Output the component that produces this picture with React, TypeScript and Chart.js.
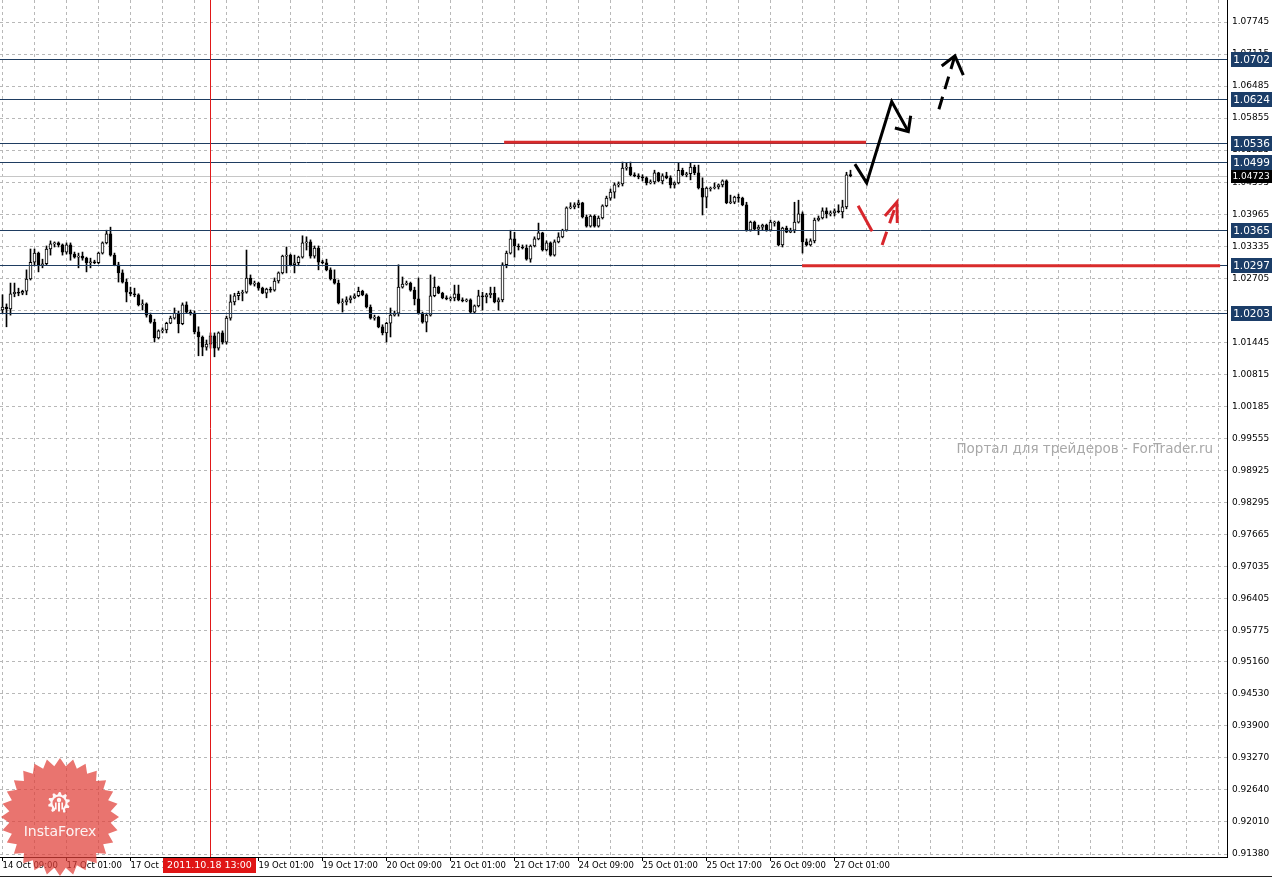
import React, { useEffect, useRef } from 'react';
import { Chart, registerables } from 'chart.js';

Chart.register(...registerables);

// ---------- candle data (H1, one value per bar) ----------
const opens = [1.0208,1.0214,1.0210,1.0240,1.0243,1.0241,1.0245,1.0269,1.0302,1.0320,
 1.0295,1.0299,1.0328,1.0338,1.0340,1.0336,1.0322,1.0336,1.0318,1.0312,
 1.0314,1.0310,1.0301,1.0302,1.0301,1.0320,1.0340,1.0358,1.0316,1.0297,
 1.0281,1.0263,1.0243,1.0240,1.0238,1.0218,1.0220,1.0198,1.0184,1.0153,
 1.0167,1.0169,1.0182,1.0192,1.0202,1.0181,1.0218,1.0204,1.0202,1.0165,
 1.0155,1.0135,1.0141,1.0157,1.0133,1.0163,1.0145,1.0192,1.0224,1.0236,
 1.0241,1.0243,1.0271,1.0259,1.0261,1.0251,1.0241,1.0249,1.0247,1.0265,
 1.0281,1.0314,1.0316,1.0297,1.0301,1.0312,1.0340,1.0342,1.0314,1.0330,
 1.0302,1.0301,1.0287,1.0269,1.0261,1.0222,1.0224,1.0228,1.0232,1.0236,
 1.0245,1.0238,1.0214,1.0192,1.0194,1.0175,1.0163,1.0182,1.0198,1.0202,
 1.0253,1.0259,1.0261,1.0247,1.0230,1.0202,1.0184,1.0198,1.0236,1.0253,
 1.0241,1.0232,1.0230,1.0232,1.0240,1.0228,1.0226,1.0228,1.0204,1.0216,
 1.0236,1.0234,1.0238,1.0241,1.0224,1.0228,1.0297,1.0320,1.0348,1.0334,
 1.0332,1.0330,1.0308,1.0334,1.0348,1.0360,1.0326,1.0340,1.0316,1.0342,
 1.0352,1.0365,1.0409,1.0411,1.0415,1.0419,1.0391,1.0373,1.0393,1.0373,
 1.0389,1.0413,1.0428,1.0440,1.0454,1.0456,1.0487,1.0489,1.0474,1.0472,
 1.0470,1.0468,1.0458,1.0460,1.0478,1.0462,1.0472,1.0468,1.0454,1.0458,
 1.0483,1.0474,1.0476,1.0489,1.0478,1.0448,1.0430,1.0446,1.0448,1.0450,
 1.0454,1.0462,1.0419,1.0420,1.0430,1.0428,1.0415,1.0365,1.0381,1.0367,
 1.0371,1.0375,1.0365,1.0379,1.0381,1.0336,1.0369,1.0361,1.0365,1.0381,
 1.0397,1.0342,1.0336,1.0344,1.0385,1.0389,1.0403,1.0397,1.0399,1.0403,
 1.0401,1.0411,1.0474];

const highs = [1.0238,1.0220,1.0261,1.0261,1.0251,1.0247,1.0287,1.0328,1.0328,1.0322,
 1.0308,1.0334,1.0344,1.0342,1.0342,1.0338,1.0340,1.0340,1.0322,1.0320,
 1.0322,1.0312,1.0310,1.0306,1.0322,1.0342,1.0365,1.0371,1.0320,1.0302,
 1.0287,1.0269,1.0253,1.0251,1.0240,1.0228,1.0222,1.0202,1.0190,1.0169,
 1.0173,1.0184,1.0196,1.0212,1.0206,1.0222,1.0224,1.0208,1.0206,1.0175,
 1.0157,1.0149,1.0163,1.0163,1.0165,1.0167,1.0196,1.0238,1.0241,1.0245,
 1.0247,1.0326,1.0277,1.0265,1.0263,1.0253,1.0251,1.0253,1.0271,1.0283,
 1.0316,1.0332,1.0318,1.0316,1.0314,1.0354,1.0352,1.0346,1.0334,1.0334,
 1.0306,1.0308,1.0291,1.0287,1.0267,1.0230,1.0234,1.0236,1.0240,1.0253,
 1.0247,1.0240,1.0218,1.0198,1.0196,1.0179,1.0184,1.0212,1.0206,1.0297,
 1.0273,1.0265,1.0263,1.0253,1.0271,1.0204,1.0202,1.0277,1.0273,1.0255,
 1.0243,1.0236,1.0234,1.0257,1.0257,1.0232,1.0230,1.0230,1.0218,1.0247,
 1.0243,1.0241,1.0253,1.0253,1.0232,1.0301,1.0324,1.0365,1.0361,1.0338,
 1.0336,1.0336,1.0336,1.0352,1.0379,1.0361,1.0344,1.0342,1.0346,1.0360,
 1.0367,1.0411,1.0419,1.0419,1.0424,1.0420,1.0395,1.0395,1.0395,1.0393,
 1.0415,1.0432,1.0446,1.0458,1.0460,1.0499,1.0497,1.0499,1.0478,1.0476,
 1.0474,1.0470,1.0464,1.0483,1.0479,1.0476,1.0479,1.0472,1.0460,1.0497,
 1.0487,1.0479,1.0497,1.0493,1.0493,1.0468,1.0450,1.0450,1.0458,1.0456,
 1.0464,1.0464,1.0434,1.0432,1.0436,1.0430,1.0420,1.0383,1.0383,1.0375,
 1.0377,1.0377,1.0385,1.0383,1.0383,1.0371,1.0373,1.0369,1.0420,1.0424,
 1.0401,1.0348,1.0348,1.0389,1.0393,1.0409,1.0409,1.0403,1.0407,1.0415,
 1.0424,1.0479,1.0483];

const lows = [1.0202,1.0175,1.0198,1.0234,1.0236,1.0238,1.0238,1.0267,1.0295,1.0283,
 1.0291,1.0297,1.0316,1.0332,1.0332,1.0316,1.0318,1.0306,1.0310,1.0291,
 1.0306,1.0283,1.0291,1.0299,1.0299,1.0318,1.0338,1.0314,1.0295,1.0263,
 1.0261,1.0224,1.0236,1.0234,1.0216,1.0208,1.0194,1.0182,1.0145,1.0151,
 1.0163,1.0163,1.0181,1.0190,1.0163,1.0179,1.0202,1.0198,1.0161,1.0118,
 1.0118,1.0129,1.0133,1.0116,1.0129,1.0141,1.0141,1.0188,1.0218,1.0228,
 1.0226,1.0241,1.0257,1.0255,1.0247,1.0240,1.0232,1.0243,1.0245,1.0261,
 1.0279,1.0281,1.0295,1.0281,1.0295,1.0310,1.0326,1.0310,1.0310,1.0287,
 1.0299,1.0285,1.0267,1.0259,1.0220,1.0204,1.0218,1.0222,1.0230,1.0234,
 1.0236,1.0212,1.0190,1.0188,1.0173,1.0159,1.0145,1.0155,1.0196,1.0196,
 1.0251,1.0257,1.0245,1.0218,1.0200,1.0182,1.0165,1.0196,1.0234,1.0240,
 1.0230,1.0228,1.0226,1.0226,1.0226,1.0224,1.0224,1.0202,1.0202,1.0214,
 1.0208,1.0222,1.0232,1.0222,1.0208,1.0224,1.0291,1.0318,1.0312,1.0326,
 1.0328,1.0306,1.0302,1.0332,1.0346,1.0324,1.0324,1.0314,1.0314,1.0340,
 1.0350,1.0363,1.0407,1.0407,1.0409,1.0389,1.0371,1.0371,1.0371,1.0371,
 1.0387,1.0411,1.0424,1.0428,1.0450,1.0452,1.0483,1.0472,1.0470,1.0466,
 1.0462,1.0454,1.0456,1.0456,1.0460,1.0456,1.0466,1.0448,1.0448,1.0456,
 1.0472,1.0470,1.0464,1.0474,1.0446,1.0395,1.0409,1.0442,1.0446,1.0446,
 1.0450,1.0417,1.0417,1.0417,1.0420,1.0413,1.0363,1.0363,1.0365,1.0356,
 1.0365,1.0363,1.0363,1.0373,1.0334,1.0332,1.0360,1.0360,1.0360,1.0379,
 1.0320,1.0334,1.0334,1.0340,1.0383,1.0387,1.0389,1.0393,1.0393,1.0399,
 1.0389,1.0407,1.0470];

const closes = [1.0214,1.0210,1.0240,1.0243,1.0241,1.0245,1.0269,1.0302,1.0320,1.0295,
 1.0299,1.0328,1.0338,1.0340,1.0336,1.0322,1.0336,1.0318,1.0312,1.0314,
 1.0310,1.0301,1.0302,1.0301,1.0320,1.0340,1.0358,1.0316,1.0297,1.0281,
 1.0263,1.0243,1.0240,1.0238,1.0218,1.0220,1.0198,1.0184,1.0153,1.0167,
 1.0169,1.0182,1.0192,1.0202,1.0181,1.0218,1.0204,1.0202,1.0165,1.0155,
 1.0135,1.0141,1.0157,1.0133,1.0163,1.0145,1.0192,1.0224,1.0236,1.0241,
 1.0243,1.0271,1.0259,1.0261,1.0251,1.0241,1.0249,1.0247,1.0265,1.0281,
 1.0314,1.0316,1.0297,1.0301,1.0312,1.0340,1.0342,1.0314,1.0330,1.0302,
 1.0301,1.0287,1.0269,1.0261,1.0222,1.0224,1.0228,1.0232,1.0236,1.0245,
 1.0238,1.0214,1.0192,1.0194,1.0175,1.0163,1.0182,1.0198,1.0202,1.0253,
 1.0259,1.0261,1.0247,1.0230,1.0202,1.0184,1.0198,1.0236,1.0253,1.0241,
 1.0232,1.0230,1.0232,1.0240,1.0228,1.0226,1.0228,1.0204,1.0216,1.0236,
 1.0234,1.0238,1.0241,1.0224,1.0228,1.0297,1.0320,1.0348,1.0334,1.0332,
 1.0330,1.0308,1.0334,1.0348,1.0360,1.0326,1.0340,1.0316,1.0342,1.0352,
 1.0365,1.0409,1.0411,1.0415,1.0419,1.0391,1.0373,1.0393,1.0373,1.0389,
 1.0413,1.0428,1.0440,1.0454,1.0456,1.0487,1.0489,1.0474,1.0472,1.0470,
 1.0468,1.0458,1.0460,1.0478,1.0462,1.0472,1.0468,1.0454,1.0458,1.0483,
 1.0474,1.0476,1.0489,1.0478,1.0448,1.0430,1.0448,1.0448,1.0450,1.0454,
 1.0462,1.0419,1.0420,1.0430,1.0428,1.0415,1.0365,1.0381,1.0367,1.0371,
 1.0375,1.0365,1.0381,1.0381,1.0336,1.0369,1.0361,1.0365,1.0381,1.0397,
 1.0342,1.0336,1.0344,1.0385,1.0389,1.0403,1.0397,1.0399,1.0403,1.0401,
 1.0411,1.0474,1.04723];

// ---------- axes ----------
const xTickBars = [0, 16, 32, 48, 64, 80, 96, 112, 128, 144, 160, 176, 192, 208];
const xTickLabels = ['14 Oct 09:00', '17 Oct 01:00', '17 Oct 17:00', '18 Oct 09:00', '19 Oct 01:00',
  '19 Oct 17:00', '20 Oct 09:00', '21 Oct 01:00', '21 Oct 17:00', '24 Oct 09:00', '25 Oct 01:00',
  '25 Oct 17:00', '26 Oct 09:00', '27 Oct 01:00'];
const xGridStep = 8;
const xMin = -0.625;
const xMax = 306.125;

const yTickLabels = ['1.07745', '1.07115', '1.06485', '1.05855', '1.05225', '1.04595', '1.03965',
  '1.03335', '1.02705', '1.02075', '1.01445', '1.00815', '1.00185', '0.99555', '0.98925', '0.98295',
  '0.97665', '0.97035', '0.96405', '0.95775', '0.95160', '0.94530', '0.93900', '0.93270', '0.92640',
  '0.92010', '0.91380'];
const yTickValues = yTickLabels.map(Number);
const yMin = 0.91321;
const yMax = 1.08178;

// ---------- objects ----------
const levelPrices = [1.0702, 1.0624, 1.0536, 1.0499, 1.0365, 1.0297, 1.0203];
const levelLabels = ['1.0702', '1.0624', '1.0536', '1.0499', '1.0365', '1.0297', '1.0203'];
const currentPrice = 1.04723;
const currentPriceLabel = '1.04723';
const markerBar = 52;
const markerLabel = '2011.10.18 13:00';

const redLevelFrom = [125.4, 199.9];
const redLevelTo = [215.9, 304.4];
const redLevelPrice = [1.0538, 1.0295];

const blackPathBars = [213.1, 216.05, 222.3, 226.45];
const blackPathPrices = [1.0495, 1.0458, 1.0618, 1.0559];
const blackHeadBars = [223.1, 227.05];
const blackHeadPrices = [1.0566, 1.0590];

const blackDashBars = [234.1, 238.1];
const blackDashPrices = [1.0603, 1.0708];
const blackDashHeadBars = [234.8, 240.2];
const blackDashHeadPrices = [1.0688, 1.0670];

const redPathBars = [213.9, 217.4];
const redPathPrices = [1.0413, 1.0363];
const redDashBars = [219.9, 223.6];
const redDashPrices = [1.0336, 1.0420];
const redDashHeadBars = [220.6, 223.7];
const redDashHeadPrices = [1.0393, 1.0379];

const watermarkText = 'Портал для трейдеров - ForTrader.ru';
const logoText = 'InstaForex';

const FONT = '"DejaVu Sans"';

function drawLogo(ctx: CanvasRenderingContext2D, cx: number, cy: number) {
  ctx.save();
  const spikes = 28;
  ctx.beginPath();
  for (let i = 0; i < spikes * 2; i++) {
    const r = i % 2 === 0 ? 59 : 51;
    const a = (Math.PI * i) / spikes - Math.PI / 2;
    const px = cx + r * Math.cos(a);
    const py = cy + r * Math.sin(a);
    if (i === 0) ctx.moveTo(px, py); else ctx.lineTo(px, py);
  }
  ctx.closePath();
  ctx.fillStyle = 'rgba(224, 62, 56, 0.72)';
  ctx.fill();

  // gear icon
  const gx = cx - 1;
  const gy = cy - 14;
  ctx.fillStyle = 'rgba(255,255,255,0.95)';
  ctx.beginPath();
  const teeth = 10;
  for (let i = 0; i < teeth * 4; i++) {
    const r = (Math.floor(i / 2) % 2 === 0) ? 11 : 8.5;
    const a = (Math.PI * 2 * i) / (teeth * 4) - Math.PI / 2;
    const px = gx + r * Math.cos(a);
    const py = gy + r * Math.sin(a);
    if (i === 0) ctx.moveTo(px, py); else ctx.lineTo(px, py);
  }
  ctx.closePath();
  ctx.fill();
  ctx.fillStyle = '#e9736d';
  ctx.beginPath();
  ctx.arc(gx, gy, 6.5, 0, Math.PI * 2);
  ctx.fill();
  ctx.fillRect(gx - 4, gy + 4, 8, 8);
  ctx.fillStyle = 'rgba(255,255,255,0.95)';
  ctx.beginPath();
  ctx.arc(gx, gy - 3, 2.2, 0, Math.PI * 2);
  ctx.fill();
  ctx.fillRect(gx - 1, gy - 0.5, 2, 9);
  ctx.fillRect(gx - 4, gy - 0.5, 1.6, 7);
  ctx.fillRect(gx + 2.4, gy - 0.5, 1.6, 7);

  ctx.fillStyle = 'rgba(255,255,255,0.92)';
  ctx.font = `14px ${FONT}`;
  ctx.textAlign = 'center';
  ctx.textBaseline = 'middle';
  ctx.fillText(logoText, cx, cy + 15);
  ctx.restore();
}

const overlayPlugin = {
  id: 'mtOverlay',
  beforeDraw(chart: any) {
    const { ctx, chartArea: a } = chart;
    ctx.save();
    ctx.fillStyle = '#a8a8a8';
    ctx.font = `13.5px ${FONT}`;
    ctx.textAlign = 'right';
    ctx.textBaseline = 'middle';
    ctx.fillText(watermarkText, a.right - 14, 449);
    ctx.restore();
  },
  beforeDatasetsDraw(chart: any) {
    const { ctx, chartArea: a, scales } = chart;
    const yy = Math.round(scales.y.getPixelForValue(currentPrice)) + 0.5;
    ctx.save();
    ctx.strokeStyle = '#c6c6c6';
    ctx.lineWidth = 1;
    ctx.beginPath();
    ctx.moveTo(a.left, yy);
    ctx.lineTo(a.right, yy);
    ctx.stroke();
    ctx.restore();
  },
  afterDatasetsDraw(chart: any) {
    const { ctx, chartArea: a, scales } = chart;
    const px = (b: number) => scales.x.getPixelForValue(b);
    const py = (p: number) => scales.y.getPixelForValue(p);
    ctx.save();
    ctx.beginPath();
    ctx.rect(a.left, a.top, a.right - a.left, a.bottom - a.top);
    ctx.clip();

    ctx.strokeStyle = '#1f3d61';
    ctx.lineWidth = 1;
    levelPrices.forEach((p) => {
      const yy = Math.round(py(p)) + 0.5;
      ctx.beginPath();
      ctx.moveTo(a.left, yy);
      ctx.lineTo(a.right, yy);
      ctx.stroke();
    });

    const mx = Math.round(px(markerBar)) + 0.5;
    ctx.strokeStyle = '#e01818';
    ctx.beginPath();
    ctx.moveTo(mx - 1, a.top);
    ctx.lineTo(mx - 1, a.bottom);
    ctx.stroke();

    ctx.strokeStyle = '#d92b2b';
    ctx.lineWidth = 3;
    redLevelPrice.forEach((p, i) => {
      const yy = py(p);
      ctx.beginPath();
      ctx.moveTo(px(redLevelFrom[i]), yy);
      ctx.lineTo(px(redLevelTo[i]), yy);
      ctx.stroke();
    });

    const poly = (bars: number[], prices: number[], color: string, dash: number[]) => {
      ctx.strokeStyle = color;
      ctx.lineWidth = 3;
      ctx.setLineDash(dash);
      ctx.beginPath();
      bars.forEach((b, i) => {
        if (i === 0) ctx.moveTo(px(b), py(prices[i])); else ctx.lineTo(px(b), py(prices[i]));
      });
      ctx.stroke();
      ctx.setLineDash([]);
    };
    const head = (tipBar: number, tipPrice: number, wb: number[], wp: number[], color: string) => {
      ctx.strokeStyle = color;
      ctx.lineWidth = 3;
      ctx.beginPath();
      ctx.moveTo(px(wb[0]), py(wp[0]));
      ctx.lineTo(px(tipBar), py(tipPrice));
      ctx.lineTo(px(wb[1]), py(wp[1]));
      ctx.stroke();
    };
    ctx.lineJoin = 'miter';
    poly(blackPathBars, blackPathPrices, '#000', []);
    head(blackPathBars[3], blackPathPrices[3], blackHeadBars, blackHeadPrices, '#000');
    poly(blackDashBars, blackDashPrices, '#000', [13, 8]);
    head(blackDashBars[1], blackDashPrices[1], blackDashHeadBars, blackDashHeadPrices, '#000');
    poly(redPathBars, redPathPrices, '#d8262c', []);
    poly(redDashBars, redDashPrices, '#d8262c', [14, 9]);
    head(redDashBars[1], redDashPrices[1], redDashHeadBars, redDashHeadPrices, '#d8262c');
    ctx.restore();
  },
  afterDraw(chart: any) {
    const { ctx, chartArea: a, scales } = chart;
    const px = (b: number) => scales.x.getPixelForValue(b);
    const py = (p: number) => scales.y.getPixelForValue(p);
    ctx.save();
    ctx.textAlign = 'center';
    ctx.textBaseline = 'middle';

    ctx.font = `10.5px ${FONT}`;
    levelPrices.forEach((p, i) => {
      const yy = Math.round(py(p));
      ctx.fillStyle = '#1b3d68';
      ctx.fillRect(a.right + 4, yy - 7, 41, 15);
      ctx.fillStyle = '#ffffff';
      ctx.fillText(levelLabels[i], a.right + 24.5, yy + 1);
    });

    const cy = Math.round(py(currentPrice));
    ctx.fillStyle = '#000000';
    ctx.fillRect(a.right + 4, cy - 6, 41, 13);
    ctx.fillStyle = '#ffffff';
    ctx.font = `9px ${FONT}`;
    ctx.fillText(currentPriceLabel, a.right + 24, cy + 0.5);

    const mx = Math.round(px(markerBar));
    ctx.fillStyle = '#e01515';
    ctx.fillRect(mx - 48, a.bottom + 1, 93, 15);
    ctx.fillStyle = '#ffffff';
    ctx.font = `9.5px ${FONT}`;
    ctx.fillText(markerLabel, mx - 1.5, a.bottom + 9);

    ctx.strokeStyle = '#222';
    ctx.lineWidth = 1;
    ctx.beginPath();
    ctx.moveTo(0, chart.height - 0.5);
    ctx.lineTo(chart.width, chart.height - 0.5);
    ctx.stroke();
    ctx.restore();

    drawLogo(ctx, 60, 817);
  },
};

export default function App() {
  const ref = useRef<HTMLCanvasElement>(null);

  useEffect(() => {
    const canvas = ref.current;
    if (!canvas) return;
    const idx = opens.map((_, i) => i);
    const gridBars: number[] = [];
    for (let b = 0; b <= xMax; b += xGridStep) gridBars.push(b);

    const chart = new Chart(canvas, {
      type: 'bar',
      data: {
        datasets: [
          {
            label: 'wicks',
            data: idx.map((i) => ({ x: i, y: [lows[i], highs[i]] })) as any,
            backgroundColor: '#000000',
            borderWidth: 0,
            grouped: false,
            barPercentage: 1,
            categoryPercentage: 1,
            maxBarThickness: 1,
            order: 2,
          } as any,
          {
            label: 'bodies',
            data: idx.map((i) => ({ x: i, y: [opens[i], closes[i]] })) as any,
            backgroundColor: idx.map((i) => (closes[i] >= opens[i] ? '#ffffff' : '#000000')),
            borderColor: '#000000',
            borderWidth: 1,
            borderSkipped: false,
            grouped: false,
            barPercentage: 1,
            categoryPercentage: 1,
            maxBarThickness: 3,
            minBarLength: 1,
            order: 1,
          } as any,
        ],
      },
      options: {
        animation: false,
        responsive: false,
        devicePixelRatio: 1,
        events: [],
        layout: { padding: 0 },
        plugins: { legend: { display: false }, tooltip: { enabled: false }, title: { display: false } },
        scales: {
          x: {
            type: 'linear',
            position: 'bottom',
            min: xMin,
            max: xMax,
            offset: false,
            afterBuildTicks: (s: any) => { s.ticks = gridBars.map((v) => ({ value: v })); },
            afterFit: (s: any) => {
              s.height = 20;
              s.paddingLeft = 0; s.paddingRight = 0; s.paddingTop = 0; s.paddingBottom = 0;
            },
            ticks: {
              autoSkip: false,
              maxRotation: 0,
              minRotation: 0,
              align: 'start',
              padding: 0,
              color: '#000',
              font: { family: 'DejaVu Sans', size: 8.5 },
              callback: (v: any) => {
                const i = xTickBars.indexOf(Number(v));
                return i >= 0 ? xTickLabels[i] : '';
              },
            },
            grid: {
              offset: false,
              color: '#b8b8b8',
              lineWidth: 1,
              drawTicks: true,
              tickLength: 4,
              tickWidth: 1,
              tickBorderDash: [],
              tickColor: (c: any) => (c.tick && xTickBars.includes(c.tick.value) ? '#000' : 'rgba(0,0,0,0)'),
            },
            border: { display: true, color: '#000', width: 1, dash: [3, 3] },
          } as any,
          y: {
            type: 'linear',
            position: 'right',
            min: yMin,
            max: yMax,
            beginAtZero: false,
            afterBuildTicks: (s: any) => { s.ticks = yTickValues.map((v) => ({ value: v })); },
            afterFit: (s: any) => {
              s.width = 45;
              s.paddingLeft = 0; s.paddingRight = 0; s.paddingTop = 0; s.paddingBottom = 0;
            },
            ticks: {
              autoSkip: false,
              padding: 5,
              color: '#000',
              font: { family: 'DejaVu Sans', size: 9 },
              callback: (_v: any, i: number) => yTickLabels[i],
            },
            grid: { color: '#b8b8b8', lineWidth: 1, drawTicks: false },
            border: { display: true, color: '#000', width: 1, dash: [3, 3] },
          } as any,
        },
      },
      plugins: [overlayPlugin as any],
    } as any);

    return () => chart.destroy();
  }, []);

  return (
    <div style={{ position: 'absolute', left: 0, top: 0, width: 1272, height: 877, background: '#fff' }}>
      <canvas ref={ref} width={1272} height={877} style={{ display: 'block', width: 1272, height: 877 }} />
    </div>
  );
}
